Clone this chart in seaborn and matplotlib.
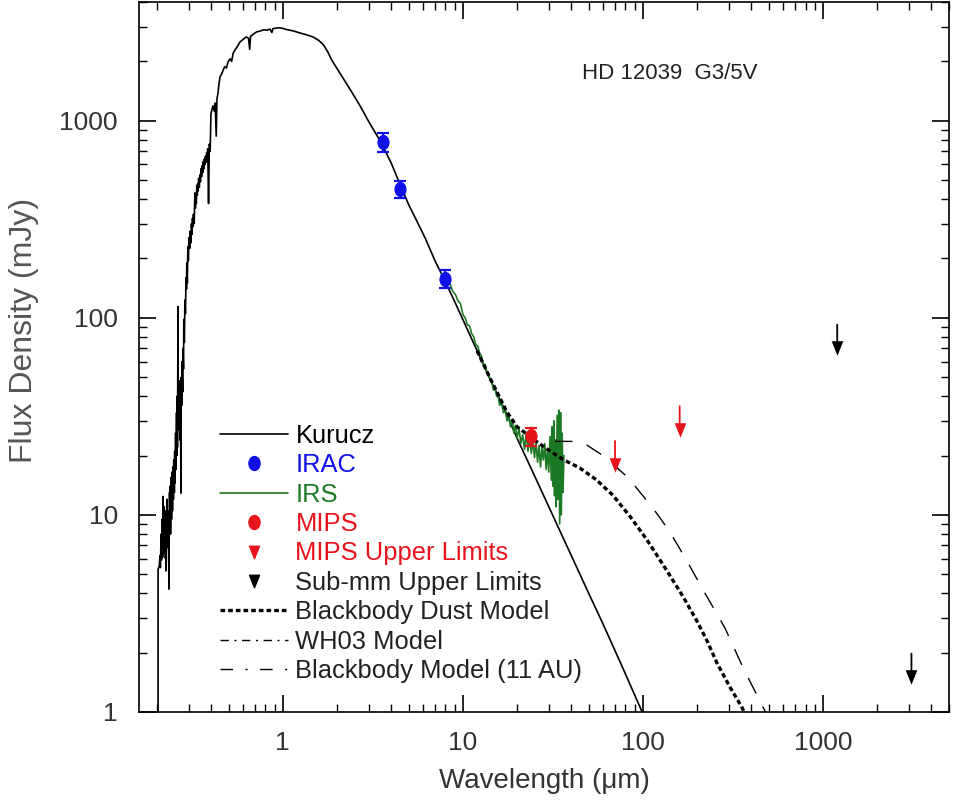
import numpy as np
import pandas as pd
import matplotlib
matplotlib.use('Agg')
import matplotlib.pyplot as plt
import seaborn as sns
from matplotlib.path import Path
from matplotlib.transforms import Affine2D
from matplotlib.lines import Line2D
from matplotlib.ticker import FixedLocator, NullFormatter

# ---------------- data ----------------
kurucz_wl = [0.203, 0.203, 0.206, 0.208, 0.209, 0.211, 0.212, 0.214, 0.215, 0.216, 0.217, 0.219,
             0.220, 0.221, 0.223, 0.224, 0.225, 0.227, 0.228, 0.229, 0.231, 0.232, 0.233, 0.235,
             0.236, 0.237, 0.238, 0.240, 0.241, 0.243, 0.244, 0.245, 0.247, 0.248, 0.250, 0.251,
             0.252, 0.254, 0.255, 0.257, 0.258, 0.259, 0.260, 0.262, 0.263, 0.265, 0.266, 0.267,
             0.268, 0.270, 0.272, 0.273, 0.275, 0.276, 0.278, 0.279, 0.281, 0.282, 0.284, 0.286,
             0.288, 0.290, 0.292, 0.293, 0.295, 0.297, 0.299, 0.301, 0.304, 0.306, 0.309, 0.311,
             0.313, 0.315, 0.317, 0.319, 0.322, 0.325, 0.327, 0.329, 0.331, 0.333, 0.335, 0.337,
             0.339, 0.341, 0.344, 0.346, 0.349, 0.351, 0.354, 0.356, 0.359, 0.362, 0.365, 0.367,
             0.370, 0.372, 0.375, 0.378, 0.381, 0.383, 0.387, 0.391, 0.395, 0.399, 0.405, 0.410,
             0.416, 0.421, 0.427, 0.431, 0.437, 0.443, 0.449, 0.457, 0.466, 0.476, 0.486, 0.497,
             0.510, 0.520, 0.530, 0.545, 0.560, 0.577, 0.600, 0.628, 0.645, 0.655, 0.662, 0.690,
             0.715, 0.750, 0.780, 0.820, 0.847, 0.870, 0.880, 0.920, 0.962, 1.00, 1.05, 1.15,
             1.24, 1.35, 1.47, 1.58, 1.68, 1.78, 1.87, 2.0, 2.2, 2.4, 2.7, 3.0, 3.5, 4.0, 4.5,
             5.0, 5.5, 6.2, 7.0, 8.0, 9.0, 10.0, 12.0, 14.0, 17.0, 20.0, 25.0, 30.0, 35.0, 40.0,
             50.0, 60.0, 75.0, 90.0, 100.0]
kurucz_flux = [1.0, 5.3, 5.5, 6.2, 5.4, 8.0, 5.9, 9.5, 6.1, 12.4, 7.0, 11.0,
               6.4, 10.5, 6.0, 9.8, 5.2, 12.0, 7.2, 10.5, 6.8, 9.5, 4.2, 13.0,
               8.5, 14.0, 8.0, 15.5, 9.5, 16.5, 10.5, 17.5, 12.0, 19.0, 13.0, 21.0,
               14.5, 26.0, 17.0, 33.0, 20.0, 40.0, 22.0, 114.0, 28.0, 48.0, 27.0, 44.0,
               24.0, 42.0, 12.9, 50.0, 36.0, 60.0, 42.0, 70.0, 55.0, 98.0, 75.0, 123.0,
               105.0, 160.0, 140.0, 190.0, 150.0, 230.0, 195.0, 255.0, 225.0, 275.0, 240.0, 300.0,
               265.0, 320.0, 290.0, 335.0, 300.0, 430.0, 360.0, 410.0, 380.0, 470.0, 420.0, 480.0,
               440.0, 510.0, 460.0, 530.0, 490.0, 570.0, 520.0, 590.0, 545.0, 620.0, 570.0, 640.0,
               600.0, 660.0, 615.0, 690.0, 640.0, 720.0, 380.0, 760.0, 700.0, 1080.0, 1150.0, 1190.0,
               1120.0, 1230.0, 835.0, 1290.0, 1390.0, 1560.0, 1680.0, 1720.0, 1800.0, 1880.0, 1850.0, 1990.0,
               2060.0, 2000.0, 2200.0, 2300.0, 2380.0, 2500.0, 2580.0, 2660.0, 2620.0, 2300.0, 2680.0, 2760.0,
               2820.0, 2850.0, 2890.0, 2880.0, 2920.0, 2800.0, 2930.0, 2950.0, 2960.0, 2940.0, 2900.0, 2850.0,
               2790.0, 2730.0, 2660.0, 2560.0, 2430.0, 2230.0, 2030.0, 1840.0, 1600.0, 1410.0, 1180.0, 990.0,
               780.0, 610.0, 470.0, 375.0, 315.0, 252.0, 195.0, 152.0, 121.0, 98.0, 68.0, 50.0, 34.5,
               24.5, 15.8, 11.0, 8.1, 6.2, 4.0, 2.8, 1.78, 1.22, 0.98]

irs_wl = [7.6, 7.9, 8.2, 8.5, 8.8, 9.1, 9.4, 9.7, 10.0, 10.3, 10.6, 10.9, 11.2, 11.5, 11.8,
          12.1, 12.4, 12.7, 13.0, 13.3, 13.6, 13.9, 14.2, 14.5, 14.8, 15.1, 15.4, 15.7, 16.0,
          16.4, 16.8, 17.2, 17.6, 18.0, 18.4, 18.8, 19.2, 19.6, 20.0, 20.5, 21.0, 21.5, 22.0,
          22.5, 23.0, 23.5, 24.0, 24.5, 25.0, 25.5, 26.0, 26.5, 27.0, 27.5, 28.0, 28.5, 29.0,
          29.5, 30.0, 30.5, 31.0, 31.3, 31.6, 32.0, 32.3, 32.7, 33.0, 33.4, 33.8, 34.1, 34.5,
          34.9, 35.2, 35.6, 36.0, 36.4]
irs_flux = [168, 160, 152, 148, 136, 131, 122, 118, 104, 100, 92, 91, 83, 80, 73,
            72, 66, 64, 58, 58, 53, 52, 48, 47, 43, 44, 40, 40, 36,
            37, 33, 34, 30, 32, 28, 30.5, 26, 28.5, 24.5, 27.5, 23, 25.5, 21.5,
            26, 21, 24.5, 20.5, 24, 19.5, 23.5, 18.5, 22.5, 17.5, 22, 19, 23, 17,
            21.5, 16.5, 25, 15, 28, 14, 30, 12.5, 24, 11, 32, 12, 34, 9,
            33, 10, 26, 13, 20]

irac_wl = [3.6, 4.5, 8.0]
irac_flux = [780.0, 450.0, 158.0]
irac_err = [90.0, 43.0, 17.0]

mips_wl = [24.0]
mips_flux = [25.0]
mips_err = [2.6]

mips_ul_wl = [70.0, 160.0]
mips_ul_flux = [18.0, 27.0]

submm_ul_wl = [1200.0, 3100.0]
submm_ul_flux = [70.0, 1.5]

dust_wl = [12.0, 14.0, 17.5, 20.0, 25.6, 30.0, 36.0, 44.6, 55.0, 68.0, 85.0,
           105.0, 135.0, 167.0, 198.0, 226.0, 258.0, 304.0, 354.0, 365.0]
dust_flux = [68.0, 50.5, 33.5, 28.0, 23.6, 21.3, 19.1, 17.3, 15.1, 12.6, 9.8,
             7.5, 5.26, 3.85, 2.93, 2.32, 1.77, 1.34, 1.06, 1.0]

bb11_wl = [32.5, 40.0, 48.5, 61.5, 83.0, 112.0, 124.0, 141.0, 170.0, 216.0, 286.0, 362.0, 464.0, 480.0]
bb11_flux = [23.6, 23.6, 22.7, 19.7, 15.4, 11.0, 9.7, 8.2, 6.15, 4.16, 2.66, 1.66, 1.06, 1.0]

wh03_wl = []
wh03_flux = []

xtick_vals = [1, 10, 100, 1000]
xtick_labels = ['1', '10', '100', '1000']
ytick_vals = [1, 10, 100, 1000]
ytick_labels = ['1', '10', '100', '1000']

legend_labels = ['Kurucz', 'IRAC', 'IRS', 'MIPS', 'MIPS Upper Limits', 'Sub-mm Upper Limits',
                 'Blackbody Dust Model', 'WH03 Model', 'Blackbody Model (11 AU)']
title_text = 'HD 12039  G3/5V'
xlabel_text = 'Wavelength (\u03bcm)'
ylabel_text = 'Flux Density (mJy)'

# ---------------- style ----------------
sns.set_style('ticks')
FONT = ['Liberation Sans', 'DejaVu Sans']
plt.rcParams['font.family'] = FONT
plt.rcParams['axes.linewidth'] = 1.2

BLUE = '#1010e8'
GREEN = '#1d7a24'
RED = '#e8141b'
BLACK = '#000000'

ellipse = Path.unit_circle().transformed(Affine2D().scale(0.8, 1.0))

fig = plt.figure(figsize=(9.56, 8.10), dpi=100)
ax = fig.add_axes([0.1459, 0.121, 0.8466, 0.8765])
ax.set_xscale('log')
ax.set_yscale('log')

k_df = pd.DataFrame({'wl': kurucz_wl, 'flux': kurucz_flux})
sns.lineplot(data=k_df, x='wl', y='flux', ax=ax, color=BLACK, lw=1.2,
             estimator=None, sort=False, zorder=2)

irs_df = pd.DataFrame({'wl': irs_wl, 'flux': irs_flux})
sns.lineplot(data=irs_df, x='wl', y='flux', ax=ax, color=GREEN, lw=1.2,
             estimator=None, sort=False, zorder=3)

d_df = pd.DataFrame({'wl': dust_wl, 'flux': dust_flux})
sns.lineplot(data=d_df, x='wl', y='flux', ax=ax, color=BLACK, lw=2.4,
             linestyle=(0, (1.4, 0.9)), estimator=None, sort=False, zorder=4)

b_df = pd.DataFrame({'wl': bb11_wl, 'flux': bb11_flux})
sns.lineplot(data=b_df, x='wl', y='flux', ax=ax, color=BLACK, lw=1.0,
             linestyle=(0, (12.5, 10.5)), estimator=None, sort=False, zorder=4)

# IRAC and MIPS photometry with error bars
ax.errorbar(irac_wl, irac_flux, yerr=irac_err, fmt='none', ecolor=BLUE, elinewidth=1.6,
            capsize=4.5, capthick=1.6, zorder=5)
sns.scatterplot(x=irac_wl, y=irac_flux, ax=ax, color=BLUE, marker=ellipse, s=120,
                linewidth=0, zorder=6)
ax.errorbar(mips_wl, mips_flux, yerr=mips_err, fmt='none', ecolor=RED, elinewidth=1.6,
            capsize=4.5, capthick=1.6, zorder=5)
sns.scatterplot(x=mips_wl, y=mips_flux, ax=ax, color=RED, marker=ellipse, s=120,
                linewidth=0, zorder=6)

# upper limits (triangle + arrow shaft)
tri = Path([(-0.5, 0.5), (0.5, 0.5), (0.0, -0.5), (-0.5, 0.5)],
           [Path.MOVETO, Path.LINETO, Path.LINETO, Path.CLOSEPOLY]).transformed(Affine2D().scale(0.8, 1.0))
for wl_list, fl_list, col in [(mips_ul_wl, mips_ul_flux, RED), (submm_ul_wl, submm_ul_flux, BLACK)]:
    sns.scatterplot(x=wl_list, y=fl_list, ax=ax, color=col, marker=tri, s=110,
                    linewidth=0, zorder=6)
    for xv, yv in zip(wl_list, fl_list):
        ax.annotate('', xy=(xv, yv), xytext=(0, 17), textcoords='offset points',
                    xycoords='data',
                    arrowprops=dict(arrowstyle='-', color=col, lw=1.3, shrinkA=0, shrinkB=0))

# ---------------- axes ----------------
ax.set_xlim(0.16, 5000)
ax.set_ylim(1, 4000)
ax.xaxis.set_major_locator(FixedLocator(xtick_vals))
ax.yaxis.set_major_locator(FixedLocator(ytick_vals))
ax.set_xticklabels(xtick_labels)
ax.set_yticklabels(ytick_labels)
ax.xaxis.set_minor_formatter(NullFormatter())
ax.yaxis.set_minor_formatter(NullFormatter())
ax.tick_params(which='both', direction='in', top=True, right=True, colors=BLACK,
               labelcolor='#333333', labelsize=19)
ax.tick_params(which='major', length=12, width=1.2)
ax.tick_params(axis='x', which='major', pad=14)
ax.tick_params(axis='y', which='major', pad=15.5)
ax.tick_params(which='minor', length=6, width=1.0)
for sp in ax.spines.values():
    sp.set_color(BLACK)
    sp.set_visible(True)

ax.set_xlabel(xlabel_text, fontsize=20, color='#333333', labelpad=9)
ax.set_ylabel(ylabel_text, fontsize=23, color='#555555')
ax.yaxis.set_label_coords(-0.124, 0.538)

ax.text(0.547, 0.9, title_text, transform=ax.transAxes, fontsize=16, color='#222222',
        va='center', ha='left')

# ---------------- legend ----------------
handles = [
    Line2D([], [], color=BLACK, lw=1.2),
    Line2D([], [], color=BLUE, marker=ellipse, ls='none', ms=10),
    Line2D([], [], color=GREEN, lw=1.2),
    Line2D([], [], color=RED, marker=ellipse, ls='none', ms=10),
    Line2D([], [], color=RED, marker=tri, ls='none', ms=9),
    Line2D([], [], color=BLACK, marker=tri, ls='none', ms=9),
    Line2D([], [], color=BLACK, lw=2.4, ls=(0, (1.4, 0.9))),
    Line2D(wh03_wl, wh03_flux, color=BLACK, lw=1.0, ls=(0, (6, 4, 1.5, 4))),
    Line2D([], [], color=BLACK, lw=1.0, ls=(0, (9, 9, 1.5, 9))),
]
label_colors = [BLACK, BLUE, GREEN, RED, RED, '#222222', '#222222', '#222222', '#222222']
leg = ax.legend(handles, legend_labels, loc='upper left', bbox_to_anchor=(0.0995, 0.4056),
                frameon=False, fontsize=18.4, handlelength=2.65, handletextpad=0.3,
                labelspacing=0.21, borderpad=0, borderaxespad=0, labelcolor=label_colors)

fig.savefig('out.png', dpi=100)
